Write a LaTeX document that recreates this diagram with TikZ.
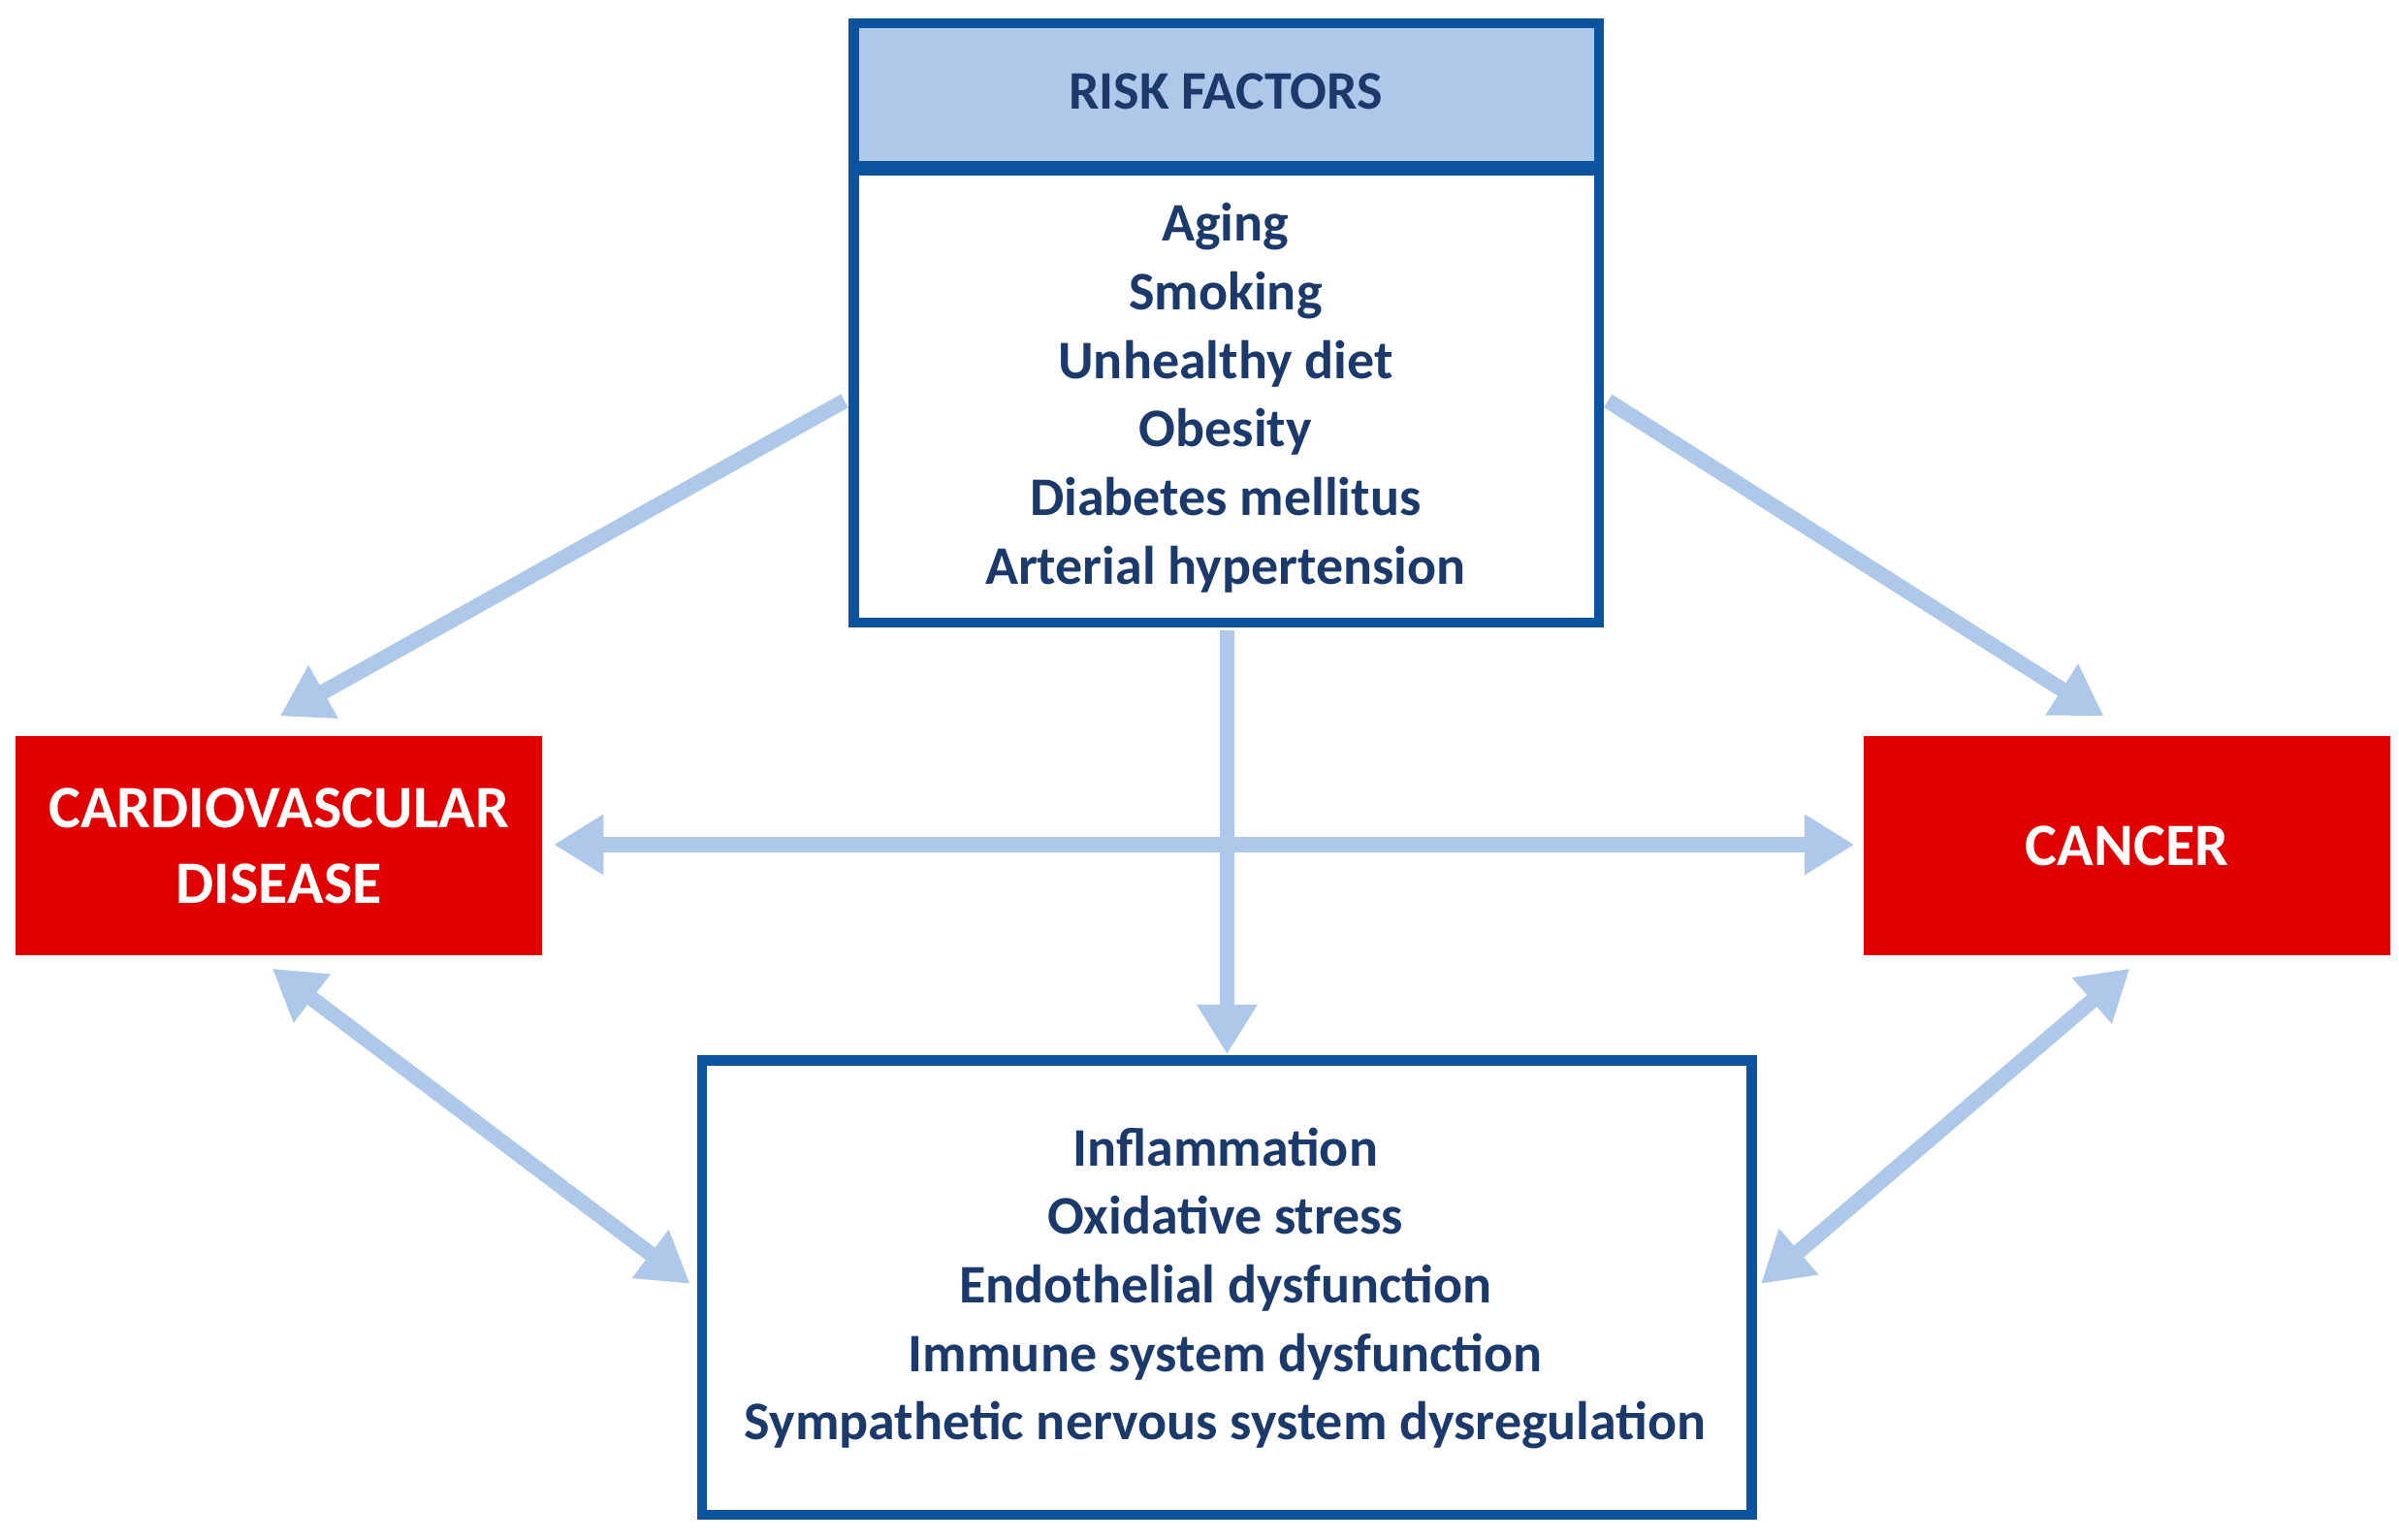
\documentclass[tikz,border=0pt]{standalone}
\usepackage{fontspec}
\setmainfont{Carlito}
\usetikzlibrary{arrows.meta}
\definecolor{dblue}{HTML}{0B539E}
\definecolor{tblue}{HTML}{1B3A6B}
\definecolor{lblue}{HTML}{AEC8EA}
\definecolor{dred}{HTML}{E00000}
\begin{document}
\begin{tikzpicture}[x=0.02cm,y=-0.02cm,
  txt/.style={text=tblue,font=\bfseries\fontsize{20.2}{25.5}\selectfont,align=center},
  box/.style={draw=dblue,line width=0.13cm},
  red/.style={fill=dred,text=white,font=\bfseries\fontsize{22.4}{28}\selectfont,align=center,inner sep=0},
  arr/.style={draw=lblue,line width=0.2cm,-{Triangle[length=0.65cm,width=0.75cm]}},
  darr/.style={draw=lblue,line width=0.2cm,{Triangle[length=0.65cm,width=0.75cm]}-{Triangle[length=0.65cm,width=0.75cm]}}]
\useasboundingbox (0,0) rectangle (1568,1006);
% risk factors
\fill[lblue] (558,15) rectangle (1045,108);
\draw[box] (558,15) rectangle (1045,407);
\node[inner sep=0] (risk) at (801.5,211) {};
\draw[dblue,line width=0.2cm] (555,110) -- (1048,110);
\node[txt] (rh) at (801,60) {RISK FACTORS};
\node[txt] (rl) at (801,260) {Aging\\Smoking\\Unhealthy diet\\Obesity\\Diabetes mellitus\\Arterial hypertension};
% red boxes
\node[red,minimum width=344*0.02cm,minimum height=143*0.02cm,anchor=north west] (cvd) at (10,481) {CARDIOVASCULAR\\DISEASE};
\node[red,minimum width=344*0.02cm,minimum height=143*0.02cm,anchor=north west] (can) at (1218,481) {CANCER};
% bottom box
\draw[box] (459,693) rectangle (1145,990);
\node[inner sep=0] (bot) at (802,841) {};
\node[txt] (bl) at (801,842) {Inflammation\\Oxidative stress\\Endothelial dysfunction\\Immune system dysfunction\\Sympathetic nervous system dysregulation};
% arrows
\coordinate (a1) at (552,262); \coordinate (a2) at (183,468);
\coordinate (b1) at (1051,262); \coordinate (b2) at (1375,468);
\coordinate (c1) at (362,552); \coordinate (c2) at (1212,552);
\coordinate (d1) at (178,633); \coordinate (d2) at (451,839);
\coordinate (e1) at (1392,633); \coordinate (e2) at (1151,839);
\coordinate (v1) at (802,412); \coordinate (v2) at (802,689);
\draw[darr] (c1) -- (c2);
\draw[arr] (v1) -- (v2);
\draw[arr] (a1) -- (a2);
\draw[arr] (b1) -- (b2);
\draw[darr] (d1) -- (d2);
\draw[darr] (e1) -- (e2);
\end{tikzpicture}
\end{document}
